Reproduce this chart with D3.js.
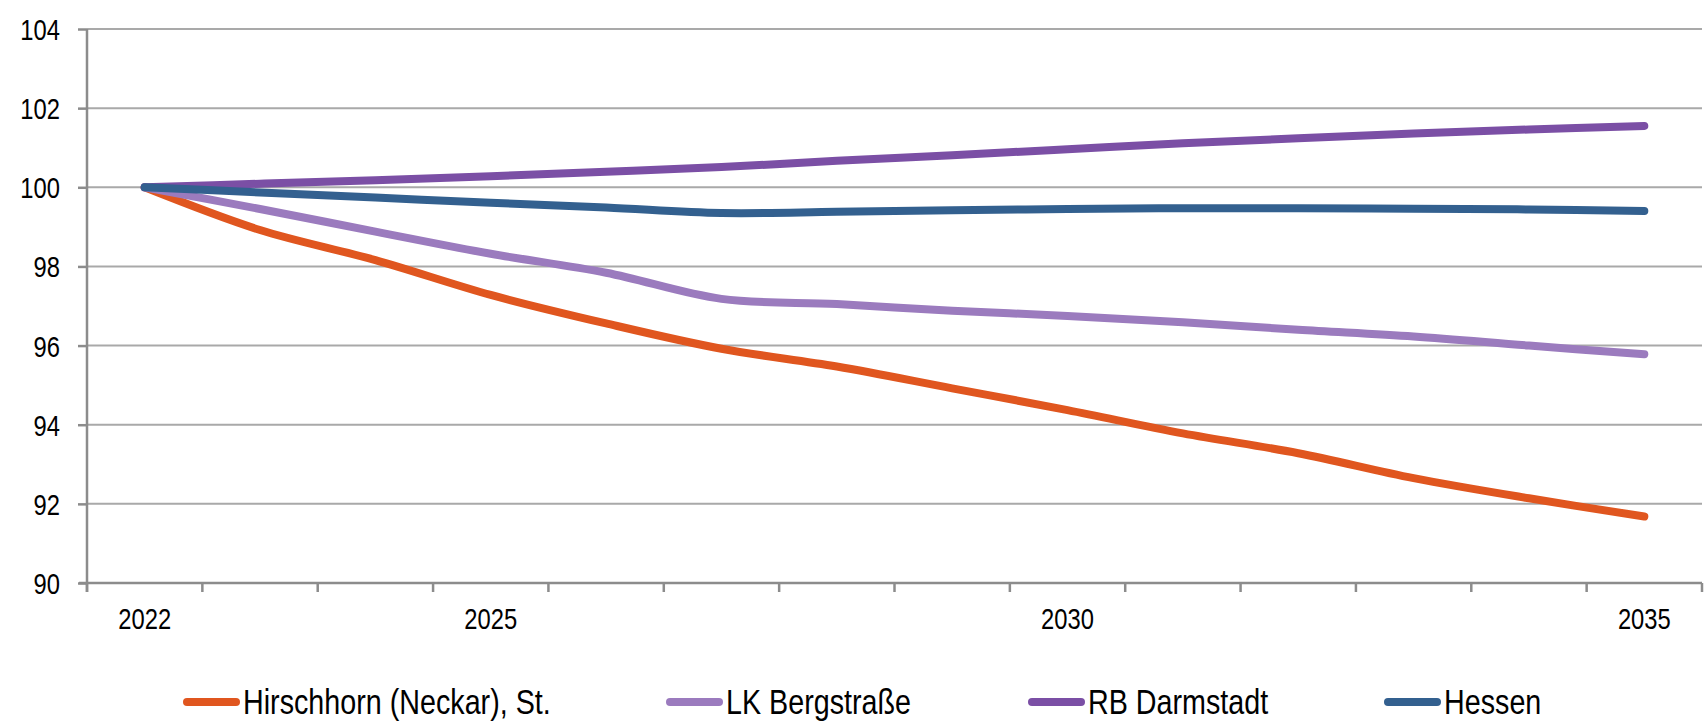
<!DOCTYPE html>
<html>
<head>
<meta charset="utf-8">
<script src="https://cdn.jsdelivr.net/npm/d3@7"></script>
<style>
  html, body { margin: 0; padding: 0; background: #fff; }
  svg text { font-family: "Liberation Sans Narrow", "Arial Narrow", "Liberation Sans", Arial, sans-serif; fill: #000; }
</style>
</head>
<body>
<div id="chart"></div>
<script>
// data (index, 2022 = 100)
var years = [2022, 2023, 2024, 2025, 2026, 2027, 2028, 2029, 2030, 2031, 2032, 2033, 2034, 2035];
var yearLabels = [2022, 2025, 2030, 2035];
var yTicks = [90, 92, 94, 96, 98, 100, 102, 104];

var seriesNames = ["Hirschhorn (Neckar), St.", "LK Bergstraße", "RB Darmstadt", "Hessen"];
var seriesColors = ["#e0561f", "#9b7bbe", "#7b4fa5", "#33608f"];

var hirschhorn = [100, 98.92, 98.16, 97.28, 96.56, 95.92, 95.47, 94.92, 94.37, 93.78, 93.28, 92.65, 92.14, 91.68];
var bergstrasse = [100, 99.45, 98.88, 98.32, 97.84, 97.18, 97.05, 96.88, 96.75, 96.59, 96.40, 96.23, 96.00, 95.78];
var darmstadt = [100, 100.09, 100.18, 100.28, 100.39, 100.51, 100.67, 100.81, 100.96, 101.11, 101.24, 101.36, 101.46, 101.55];
var hessen = [100, 99.87, 99.74, 99.61, 99.49, 99.35, 99.38, 99.42, 99.45, 99.47, 99.47, 99.46, 99.44, 99.40];

var seriesValues = [hirschhorn, bergstrasse, darmstadt, hessen];

var width = 1707, height = 721;
var margin = {top: 29, right: 5, bottom: 138, left: 87};
var legendX = [183, 666, 1028, 1384];
var legendY = 702;
var squeeze = 0.82; // narrow face is not installed, so compress the regular one

var svg = d3.select("#chart")
        .append("svg")
        .attr("width", width)
        .attr("height", height);

var x = d3.scaleBand()
        .domain(years)
        .range([margin.left, width - margin.right])
        .paddingInner(0)
        .paddingOuter(0);

var y = d3.scaleLinear()
        .domain([90, 104])
        .range([height - margin.bottom, margin.top]);

function narrowText(sel, px, py) {
    sel.attr("transform", function (d, i) {
        return "translate(" + px(d, i) + "," + py(d, i) + ") scale(" + squeeze + ",1)";
    });
}

// horizontal gridlines
svg.append("g")
        .attr("class", "grid")
        .selectAll("line")
        .data(yTicks.filter(function (d) { return d > 90; }))
        .enter()
        .append("line")
        .attr("x1", margin.left)
        .attr("x2", width - margin.right)
        .attr("y1", function (d) { return y(d); })
        .attr("y2", function (d) { return y(d); })
        .style("stroke", "#a9a9a9")
        .style("stroke-width", "2px");

// y axis
var yAxis = svg.append("g")
        .attr("transform", "translate(" + margin.left + ",0)")
        .call(d3.axisLeft(y)
                .tickValues(yTicks)
                .tickSize(9)
                .tickSizeOuter(0)
                .tickFormat(d3.format("d")));
yAxis.select(".domain").remove();
yAxis.selectAll(".tick line").style("stroke", "#8c8c8c").style("stroke-width", "2.5px");
yAxis.selectAll(".tick text")
        .attr("x", null)
        .attr("dy", "0.36em")
        .style("font-size", "29px")
        .attr("transform", "translate(-27,0) scale(" + squeeze + ",1)");

svg.append("line")
        .attr("x1", margin.left)
        .attr("x2", margin.left)
        .attr("y1", y(104))
        .attr("y2", y(90) + 9)
        .style("stroke", "#8c8c8c")
        .style("stroke-width", "2.5px");

// x axis: ticks on band edges, labels at band centres
var xAxis = svg.append("g")
        .attr("transform", "translate(0," + y(90) + ")");

xAxis.append("line")
        .attr("x1", margin.left - 8)
        .attr("x2", width - margin.right)
        .style("stroke", "#8c8c8c")
        .style("stroke-width", "2.5px");

xAxis.selectAll(".xtick")
        .data(years.concat(["end"]))
        .enter()
        .append("line")
        .attr("class", "xtick")
        .attr("x1", function (d) { return d === "end" ? x.range()[1] : x(d); })
        .attr("x2", function (d) { return d === "end" ? x.range()[1] : x(d); })
        .attr("y1", 0)
        .attr("y2", 9)
        .style("stroke", "#8c8c8c")
        .style("stroke-width", "2.5px");

xAxis.selectAll(".xlabel")
        .data(yearLabels)
        .enter()
        .append("text")
        .attr("class", "xlabel")
        .attr("text-anchor", "middle")
        .style("font-size", "29px")
        .text(function (d) { return d; })
        .call(narrowText,
                function (d) { return x(d) + x.bandwidth() / 2; },
                function () { return 46; });

// lines
var line = d3.line()
        .x(function (d, i) { return x(years[i]) + x.bandwidth() / 2; })
        .y(function (d) { return y(d); })
        .curve(d3.curveCatmullRom.alpha(0.5));

svg.append("g")
        .attr("class", "lines")
        .selectAll("path")
        .data(seriesValues)
        .enter()
        .append("path")
        .attr("d", line)
        .style("fill", "none")
        .style("stroke", function (d, i) { return seriesColors[i]; })
        .style("stroke-width", "8px")
        .style("stroke-linecap", "round")
        .style("stroke-linejoin", "round");

// legend
var legend = svg.append("g")
        .attr("class", "legend")
        .selectAll("g")
        .data(seriesNames)
        .enter()
        .append("g")
        .attr("transform", function (d, i) { return "translate(" + legendX[i] + "," + legendY + ")"; });

legend.append("line")
        .attr("x1", 4)
        .attr("x2", 53)
        .style("stroke", function (d, i) { return seriesColors[i]; })
        .style("stroke-width", "8px")
        .style("stroke-linecap", "round");

legend.append("text")
        .style("font-size", "35px")
        .text(function (d) { return d; })
        .call(narrowText, function () { return 60; }, function () { return 12; });
</script>
</body>
</html>
